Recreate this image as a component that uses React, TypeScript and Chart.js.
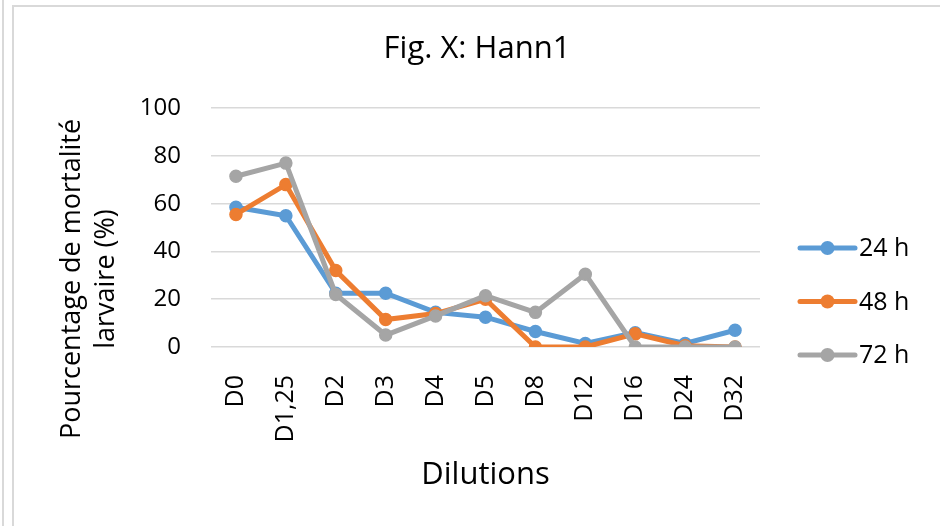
import React, { useEffect, useRef } from "react";
import { Chart, registerables } from "chart.js";

Chart.register(...registerables);

const categories = ["D0", "D1,25", "D2", "D3", "D4", "D5", "D8", "D12", "D16", "D24", "D32"];
const h24 = [58.5, 55, 22.5, 22.5, 14.5, 12.5, 6.5, 1.5, 6, 1.5, 7];
const h48 = [55.5, 68, 32, 11.5, 14, 20, 0, 0, 5.5, 0.5, 0];
const h72 = [71.5, 77, 22, 5, 13, 21.5, 14.5, 30.5, 0, 0, 0];
const seriesLabels = ["24 h", "48 h", "72 h"];
const seriesColors = ["#5B9BD5", "#ED7D31", "#A5A5A5"];
const chartTitle = "Fig. X: Hann1";
const xTitle = "Dilutions";
const yTitleLines = ["Pourcentage de mortalité", "larvaire (%)"];
const yMin = 0;
const yMax = 100;
const yStep = 20;

const FONT = "'Open Sans', 'DejaVu Sans', sans-serif";
const TEXT = "#000000";

const yTitlePlugin = {
  id: "yTitlePlugin",
  afterDraw(chart: any) {
    const ctx = chart.ctx;
    const xs = [72, 106];
    ctx.save();
    ctx.fillStyle = TEXT;
    ctx.font = `27px ${FONT}`;
    ctx.textAlign = "center";
    ctx.textBaseline = "middle";
    yTitleLines.forEach((line, i) => {
      ctx.save();
      ctx.translate(xs[i], 279);
      ctx.rotate(-Math.PI / 2);
      ctx.fillText(line, 0, 0);
      ctx.restore();
    });
    ctx.restore();
  },
};

const legendPlugin = {
  id: "sideLegend",
  afterDraw(chart: any) {
    const ctx = chart.ctx;
    const x0 = 800;
    const x1 = 855;
    const startY = 248;
    const step = 53.5;
    chart.data.datasets.forEach((ds: any, i: number) => {
      const y = startY + i * step;
      ctx.save();
      ctx.strokeStyle = ds.borderColor;
      ctx.lineWidth = 5;
      ctx.lineCap = "round";
      ctx.beginPath();
      ctx.moveTo(x0, y);
      ctx.lineTo(x1, y);
      ctx.stroke();
      ctx.fillStyle = ds.borderColor;
      ctx.beginPath();
      ctx.arc((x0 + x1) / 2, y, 7, 0, Math.PI * 2);
      ctx.fill();
      ctx.fillStyle = TEXT;
      ctx.font = `25px ${FONT}`;
      ctx.textAlign = "left";
      ctx.textBaseline = "middle";
      ctx.fillText(ds.label, x1 + 4, y + 1);
      ctx.restore();
    });
  },
};

const bgPlugin = {
  id: "bg",
  beforeDraw(chart: any) {
    const ctx = chart.ctx;
    ctx.save();
    ctx.fillStyle = "#ffffff";
    ctx.fillRect(0, 0, chart.width, chart.height);
    ctx.restore();
  },
};

export default function App() {
  const ref = useRef<HTMLCanvasElement | null>(null);

  useEffect(() => {
    if (!ref.current) return;
    const values = [h24, h48, h72];
    const chart = new Chart(ref.current, {
      type: "line",
      data: {
        labels: categories,
        datasets: values.map((v, i) => ({
          label: seriesLabels[i],
          data: v,
          borderColor: seriesColors[i],
          backgroundColor: seriesColors[i],
          pointBackgroundColor: seriesColors[i],
          pointBorderColor: seriesColors[i],
          borderWidth: 5,
          pointRadius: 6,
          pointBorderWidth: 1.5,
          tension: 0,
          order: 3 - i,
          yAxisID: "y",
        })),
      },
      options: {
        animation: false,
        responsive: false,
        layout: { padding: { left: 14, right: 0, top: 0, bottom: 32 } },
        plugins: {
          legend: { display: false },
          tooltip: { enabled: false },
          title: {
            display: true,
            text: chartTitle,
            color: TEXT,
            font: { family: FONT, size: 31, weight: "normal" as any },
            padding: { top: 31, bottom: 40 },
          },
        },
        scales: {
          x: {
            type: "category",
            offset: true,
            grid: { display: false },
            border: { display: false },
            ticks: {
              color: TEXT,
              font: { family: FONT, size: 25 },
              minRotation: 90,
              maxRotation: 90,
              autoSkip: false,
              padding: 20,
            },
            title: {
              display: true,
              text: xTitle,
              color: TEXT,
              font: { family: FONT, size: 31 },
              padding: { top: 0, bottom: 0 },
            },
            afterFit(scale: any) {
              scale.height = 147;
            },
          },
          y: {
            type: "linear",
            position: "left",
            min: yMin,
            max: yMax,
            ticks: {
              stepSize: yStep,
              color: TEXT,
              font: { family: FONT, size: 24 },
              padding: 30,
            },
            grid: { color: "#d9d9d9", lineWidth: 1.5, drawTicks: false },
            border: { display: false },
            afterFit(scale: any) {
              scale.width = 197;
            },
          },
          yR: {
            type: "linear",
            position: "right",
            display: true,
            grid: { display: false },
            border: { display: false },
            ticks: { display: false },
            afterFit(scale: any) {
              scale.width = 180;
            },
          },
        },
      },
      plugins: [bgPlugin, yTitlePlugin, legendPlugin],
    });
    return () => chart.destroy();
  }, []);

  return (
    <div style={{ position: "fixed", left: 0, top: 0, width: 940, height: 526, background: "#fff" }}>
      <canvas ref={ref} width={940} height={526} style={{ position: "absolute", left: 0, top: 0 }} />
      <div style={{ position: "absolute", left: 2, top: 0, width: 2, height: 526, background: "#d9d9d9" }} />
      <div style={{ position: "absolute", left: 12, top: 5, width: 2, height: 521, background: "#d9d9d9" }} />
      <div style={{ position: "absolute", left: 12, top: 5, width: 928, height: 2, background: "#d9d9d9" }} />
    </div>
  );
}
